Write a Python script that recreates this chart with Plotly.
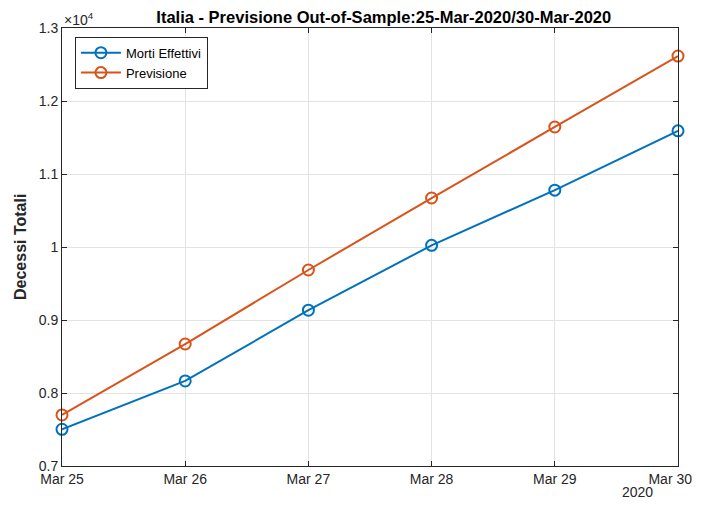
import plotly.graph_objects as go

dates = ["Mar 25", "Mar 26", "Mar 27", "Mar 28", "Mar 29", "Mar 30"]
morti_effettivi = [7503, 8165, 9134, 10023, 10779, 11591]
previsione = [7699, 8671, 9685, 10671, 11644, 12616]
xtick_text = ["Mar 25", "Mar 26", "Mar 27", "Mar 28", "Mar 29", "Mar 30\u00a0\u00a0\u00a0\u00a0"]
ytick_vals = [7000, 8000, 9000, 10000, 11000, 12000, 13000]
ytick_text = ["0.7", "0.8", "0.9", "1", "1.1", "1.2", "1.3"]

font_family = "Liberation Sans, Arial, Helvetica, sans-serif"
axis_color = "#262626"

W, H = 693, 494
L, R, T, B = 54, 23, 20, 36

fig = go.Figure()
fig.add_trace(go.Scatter(
    x=dates, y=morti_effettivi, name="Morti Effettivi", mode="lines+markers",
    line=dict(color="#0072BD", width=2),
    marker=dict(symbol="circle-open", size=11, color="#0072BD", line=dict(width=2)),
    cliponaxis=False,
))
fig.add_trace(go.Scatter(
    x=dates, y=previsione, name="Previsione", mode="lines+markers",
    line=dict(color="#D95319", width=2),
    marker=dict(symbol="circle-open", size=11, color="#D95319", line=dict(width=2)),
    cliponaxis=False,
))

fig.update_layout(
    width=W, height=H,
    margin=dict(l=L, r=R, t=T, b=B, autoexpand=False),
    paper_bgcolor="white", plot_bgcolor="white",
    font=dict(family=font_family, size=14, color=axis_color),
    title=dict(text="<b>Italia - Previsione Out-of-Sample:25-Mar-2020/30-Mar-2020</b>",
               x=(L + (W - L - R) / 2) / W, xanchor="center", xref="paper",
               y=1 - 9 / H, yanchor="middle",
               font=dict(size=16.5, color="black")),
    showlegend=True,
    legend=dict(x=0.021, y=0.98, xanchor="left", yanchor="top",
                bordercolor="#262626", borderwidth=1, bgcolor="white",
                font=dict(size=13, color="black"), tracegroupgap=0,
                itemwidth=40),
)
fig.update_xaxes(
    type="category", range=[0, 5], automargin=False,
    tickmode="array", tickvals=dates, ticktext=xtick_text,
    showgrid=True, gridcolor="#E3E3E3", gridwidth=1,
    showline=True, linecolor=axis_color, linewidth=1, mirror="ticks",
    ticks="inside", ticklen=5, tickcolor=axis_color,
    tickfont=dict(size=14, color=axis_color),
    ticklabeloverflow="allow",
    zeroline=False,
)
fig.update_yaxes(
    range=[7000, 13000], tickvals=ytick_vals, ticktext=ytick_text, automargin=False,
    showgrid=True, gridcolor="#E3E3E3", gridwidth=1,
    showline=True, linecolor=axis_color, linewidth=1, mirror="ticks",
    ticks="inside", ticklen=5, tickcolor=axis_color,
    tickfont=dict(size=14, color=axis_color),
    zeroline=False,
)
fig.add_annotation(text="<b>Decessi Totali</b>", xref="paper", yref="paper", x=0, y=0.5,
                   xshift=-42, textangle=-90, xanchor="center", yanchor="middle",
                   showarrow=False, font=dict(size=16, color=axis_color))
fig.add_annotation(text="×10<sup>4</sup>", xref="paper", yref="paper", x=0, y=1.0,
                   xanchor="left", yanchor="bottom", showarrow=False, yshift=-2,
                   font=dict(size=14, color=axis_color))
fig.add_annotation(text="2020", xref="paper", yref="paper", x=0.935, y=0, yshift=-36,
                   xanchor="center", yanchor="bottom", showarrow=False,
                   font=dict(size=14, color=axis_color))

fig.write_html("out.html")
